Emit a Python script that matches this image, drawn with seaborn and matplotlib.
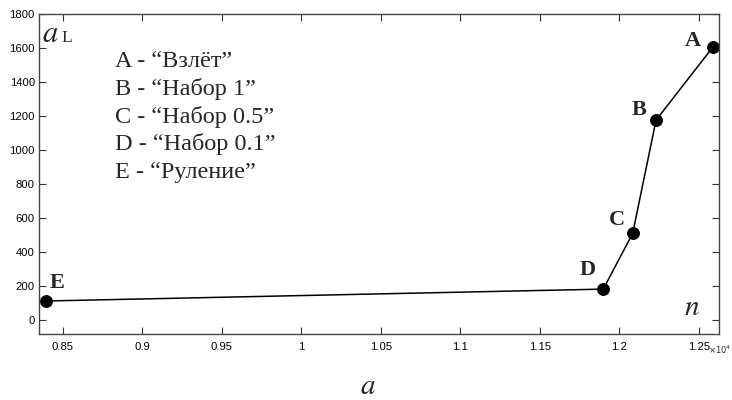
import numpy as np
import seaborn as sns
import matplotlib.pyplot as plt
from matplotlib.ticker import FuncFormatter, MultipleLocator

# operating points: E, D, C, B, A
labels = ['E', 'D', 'C', 'B', 'A']
n_vals = [8391, 11898, 12083, 12230, 12586]
a_vals = [112, 182, 510, 1176, 1604]

legend_lines = ['A - \u201cВзлёт\u201d',
                'B - \u201cНабор 1\u201d',
                'C - \u201cНабор 0.5\u201d',
                'D - \u201cНабор 0.1\u201d',
                'E - \u201cРуление\u201d']

sns.set_style('ticks')
plt.rcParams['font.family'] = ['Liberation Sans', 'DejaVu Sans']
serif = ['Liberation Serif', 'DejaVu Serif']

fig = plt.figure(figsize=(7.32, 4.0), dpi=100)
ax = fig.add_axes([0.0533, 0.165, 0.929, 0.80])

sns.lineplot(x=n_vals, y=a_vals, ax=ax, color='black', linewidth=1.1,
             marker='o', markersize=8.5, markeredgecolor='black',
             markerfacecolor='black', sort=False)

ax.set_xlim(8350, 12626)
ax.set_ylim(-82, 1800)
ax.xaxis.set_major_locator(MultipleLocator(500))
ax.yaxis.set_major_locator(MultipleLocator(200))
ax.xaxis.set_major_formatter(FuncFormatter(lambda v, p: '%g' % round(v / 1e4, 3)))
ax.tick_params(direction='in', length=5, width=0.8, labelsize=8.1,
               top=True, right=True, colors='#333333', labelcolor='black')
ax.tick_params(axis='x', pad=6)
ax.tick_params(axis='y', pad=3)
for s in ax.spines.values():
    s.set_linewidth(1.0)
    s.set_color('#444444')

# point labels (offsets in points)
offsets = {'E': (8, 13), 'D': (-11.5, 13.7), 'C': (-11.5, 9.5),
           'B': (-12, 7), 'A': (-14, 4.5)}
for lab, x, y in zip(labels, n_vals, a_vals):
    dx, dy = offsets[lab]
    ax.annotate(lab, (x, y), xytext=(dx, dy), textcoords='offset points',
                fontsize=16, fontweight='bold', family=serif,
                ha='center', va='center')

ax.text(0.004, 0.9125, '$a$', transform=ax.transAxes, fontsize=22,
        va='baseline', ha='left', math_fontfamily='stix')
ax.text(0.033, 0.9125, 'L', transform=ax.transAxes, fontsize=12.5,
        family=serif, va='baseline', ha='left')
ax.text(0.960, 0.084, '$n$', transform=ax.transAxes, fontsize=21,
        math_fontfamily='stix', ha='center', va='center')

for i, line in enumerate(legend_lines):
    ax.text(0.112, 0.853 - i * 0.0867, line, transform=ax.transAxes,
            fontsize=17.5, family=serif, va='center', ha='left')

fig.text(0.999, 0.125, '$\\times10^4$', fontsize=6, ha='right', va='center')
fig.text(0.503, 0.035, '$a$', fontsize=21, math_fontfamily='stix',
         ha='center', va='center')

fig.savefig('out.png', dpi=100)
